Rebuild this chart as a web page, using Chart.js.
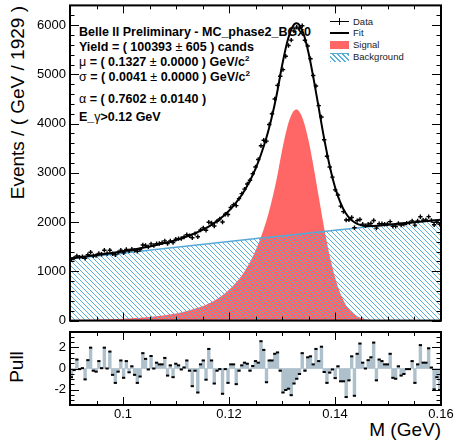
<!DOCTYPE html>
<html>
<head>
<meta charset="utf-8">
<script src="https://cdn.jsdelivr.net/npm/chart.js@4.4.0/dist/chart.umd.min.js"></script>
<style>
  body { margin: 0; background: #fff; }
  #wrap { position: relative; width: 456px; height: 440px; overflow: hidden;
          font-family: "Liberation Sans", Arial, Helvetica, sans-serif; color: #000; }
  canvas { position: absolute; left: 0; z-index: 1; }
  .t { position: absolute; white-space: nowrap; z-index: 0; }
  .info { left: 79px; font-weight: bold; font-size: 12.5px; line-height: 14px; }
  .info .g { font-weight: normal; }
  .info sup { font-size: 8px; line-height: 0; vertical-align: 5px; }
  .leg { left: 353px; font-size: 9.5px; line-height: 11px; color: #222; }
  .axt { font-size: 19px; line-height: 22px; transform: rotate(-90deg); transform-origin: 0 0; }
  .key { position: absolute; z-index: 0; }
</style>
</head>
<body>
<div id="wrap">
  <canvas id="fitChart" width="456" height="326" style="top:0"></canvas>
  <canvas id="pullChart" width="456" height="114" style="top:326px"></canvas>

  <div class="t info" style="top:25px">Belle II Preliminary - MC_phase2_BGx0</div>
  <div class="t info" style="top:40px">Yield = ( 100393 <span class="g">±</span> 605 ) cands</div>
  <div class="t info" style="top:55px"><span class="g">μ</span> = ( 0.1327 <span class="g">±</span> 0.0000 ) GeV/c<sup>2</sup></div>
  <div class="t info" style="top:70px"><span class="g">σ</span> = ( 0.0041 <span class="g">±</span> 0.0000 ) GeV/c<sup>2</sup></div>
  <div class="t info" style="top:92px"><span class="g">α</span> = ( 0.7602 <span class="g">±</span> 0.0140 )</div>
  <div class="t info" style="top:110px">E_<span class="g">γ</span>&gt;0.12 GeV</div>

  <div class="key" style="left:330px;top:21px;width:19px;height:1px;background:#000"></div>
  <div class="key" style="left:339px;top:18px;width:1px;height:7px;background:#000"></div>
  <div class="t leg" style="top:16px">Data</div>
  <div class="key" style="left:330px;top:32px;width:19px;height:2px;background:#000"></div>
  <div class="t leg" style="top:27px">Fit</div>
  <div class="key" style="left:330px;top:41px;width:19px;height:8px;background:#ff6666"></div>
  <div class="t leg" style="top:39px">Signal</div>
  <div class="key" style="left:330px;top:53px;width:19px;height:8px;border-top:1px solid #58a8d8;
       background:repeating-linear-gradient(45deg,#5aaedb 0 1px,transparent 1px 3.5px)"></div>
  <div class="t leg" style="top:51px">Background</div>

  <div class="t axt" style="left:7px;top:324px;width:318px;text-align:right">Events / ( GeV / 1929 )</div>
  <div class="t axt" style="left:6px;top:405px;width:76px;text-align:center">Pull</div>
  <div class="t" style="left:241px;top:419px;width:200px;text-align:right;font-size:19px;line-height:22px">M (GeV)</div>
</div>

<script>
// histogram range (bins of 1/1929 GeV)
const xMin = 0.09;
const xMax = 0.16;

// data points per bin (events)
const dataY = [
  1238, 1269, 1311, 1286, 1296, 1265, 1339, 1389, 1316, 1320,
  1365, 1348, 1427, 1362, 1429, 1356, 1335, 1383, 1430, 1377,
  1446, 1416, 1448, 1427, 1408, 1441, 1536, 1525, 1497, 1558,
  1525, 1561, 1567, 1581, 1619, 1566, 1618, 1587, 1651, 1664,
  1668, 1696, 1742, 1722, 1681, 1766, 1704, 1841, 1883, 1836,
  1996, 1981, 1920, 2017, 2065, 2001, 2159, 2155, 2295, 2351,
  2334, 2476, 2579, 2670, 2773, 2849, 2983, 3120, 3271, 3549,
  3663, 3645, 3982, 4201, 4498, 4777, 4961, 5096, 5367, 5586,
  5695, 5882, 5959, 5933, 5987, 5691, 5577, 5318, 4976, 4764,
  4365, 4135, 3671, 3336, 3118, 2913, 2654, 2549, 2324, 2213,
  2043, 2049, 2092, 1885, 2030, 2053, 1959, 1927, 1958, 1972,
  2034, 1878, 1967, 1966, 1956, 1961, 2010, 1916, 1917, 1975,
  1941, 1954, 1979, 1985, 2024, 1938, 2021, 2108, 2040, 2045,
  2111, 2034, 1947, 2004, 1955
];

// pull per bin
const pulls = [
  -0.82, -0.15, 0.85, -0.06, 0.03, -1.03, 0.79, 1.97, -0.21, -0.30,
  0.70, 0.03, 1.97, 0.00, 1.60, -0.60, -1.36, -0.30, 0.76, -0.88,
  0.70, -0.36, 0.21, -0.60, -1.36, -0.76, 1.45, 0.91, -0.09, 1.18,
  0.00, 0.55, 0.39, 0.39, 1.00, -0.67, 0.30, -0.82, 0.45, 0.30,
  -0.09, 0.10, 0.76, -0.21, -1.67, -0.21, -2.27, 0.39, 0.76, -1.06,
  1.85, 0.76, -1.42, -0.21, -0.06, -2.39, -0.06, -1.36, 0.39, 0.39,
  -1.48, -0.21, 0.30, 0.55, 0.45, -0.21, 0.24, 0.70, 0.55, 2.58,
  1.76, -1.30, 0.76, 0.76, 1.39, 1.52, -0.21, -2.27, -2.03, -1.91,
  -2.52, -1.42, -0.97, -0.52, 1.45, -0.21, 1.06, 1.15, 0.39, 1.85,
  0.70, 2.06, -0.33, -1.36, -0.39, -0.09, -0.91, 0.21, -1.21, -1.21,
  -2.70, -1.12, 1.15, -2.58, 1.39, 2.36, 0.55, 0.00, 0.79, 1.06,
  2.45, -1.12, 0.85, 0.70, 0.39, 0.39, 1.39, -0.88, -0.97, 0.21,
  -0.67, -0.52, -0.06, -0.06, 0.70, -1.36, 0.39, 2.21, 0.55, 0.55,
  1.91, 0.09, -1.97, -0.82, -2.03
];

// fit curves, read at these masses
const curveX = [0.090, 0.095, 0.100, 0.105, 0.110, 0.113, 0.115, 0.117, 0.119, 0.121,
                0.123, 0.125, 0.127, 0.128, 0.129, 0.130, 0.131, 0.132, 0.1327, 0.133,
                0.134, 0.135, 0.136, 0.137, 0.138, 0.139, 0.140, 0.141, 0.142, 0.143,
                0.144, 0.145, 0.146, 0.148, 0.150, 0.155, 0.160];
const fitY = [1263, 1332, 1408, 1504, 1634, 1748, 1841, 1965, 2129, 2351,
              2654, 3081, 3694, 4098, 4587, 5170, 5664, 5966, 6036, 6029,
              5841, 5439, 4888, 4274, 3669, 3140, 2713, 2399, 2184, 2051,
              1975, 1938, 1923, 1927, 1946, 1998, 2050];
const signalY = [13, 23, 40, 75, 144, 223, 292, 393, 534, 733,
                 1013, 1418, 2008, 2401, 2878, 3450, 3932, 4223, 4285, 4274,
                 4075, 3661, 3099, 2473, 1857, 1316, 878, 553, 327, 183,
                 96, 48, 22, 4, 1, 0, 0];
const bgX = [0.09, 0.10, 0.11, 0.12, 0.13, 0.14, 0.15, 0.16];
const bgY = [1250, 1368, 1490, 1607, 1720, 1835, 1945, 2050];

// axis ticks
const xLabels = [0.1, 0.12, 0.14, 0.16];
const yLabelsTop = [0, 1000, 2000, 3000, 4000, 5000, 6000];
const yLabelsPull = [-2, 0, 2];

const FONT = '"Liberation Sans", Arial, Helvetica, sans-serif';

const binW = (xMax - xMin) / pulls.length;
const binX = pulls.map((_, i) => xMin + (i + 0.5) * binW);
const pts = (xs, ys) => xs.map((x, i) => ({ x, y: ys[i] }));

function makeHatch() {
  const c = document.createElement('canvas');
  c.width = 5; c.height = 5;
  const g = c.getContext('2d');
  g.strokeStyle = '#5aaedb';
  g.lineWidth = 1;
  g.beginPath();
  g.moveTo(0, 0); g.lineTo(5, 5);
  g.moveTo(-1, 4); g.lineTo(1, 6);
  g.moveTo(4, -1); g.lineTo(6, 1);
  g.stroke();
  return g.createPattern(c, 'repeat');
}

// ROOT style frame with inward ticks on all four sides
function rootFrame(xMajor, xMinor, yMajor, yMinor) {
  return {
    id: 'rootFrame',
    afterDraw(chart) {
      const { ctx, chartArea: a, scales } = chart;
      ctx.save();
      ctx.strokeStyle = '#000';
      ctx.lineWidth = 1;
      ctx.beginPath();
      const xt = (v, len) => {
        const p = Math.round(scales.x.getPixelForValue(v)) + 0.5;
        ctx.moveTo(p, a.bottom); ctx.lineTo(p, a.bottom - len);
        ctx.moveTo(p, a.top); ctx.lineTo(p, a.top + len);
      };
      const yt = (v, len) => {
        const p = Math.round(scales.y.getPixelForValue(v)) + 0.5;
        ctx.moveTo(a.left, p); ctx.lineTo(a.left + len, p);
        ctx.moveTo(a.right, p); ctx.lineTo(a.right - len, p);
      };
      xMajor.forEach(v => xt(v, 8));
      xMinor.forEach(v => xt(v, 4));
      yMajor.forEach(v => yt(v, 9));
      yMinor.forEach(v => yt(v, 4.5));
      ctx.stroke();
      ctx.lineWidth = 2;
      ctx.strokeRect(a.left, a.top, a.right - a.left, a.bottom - a.top);
      ctx.restore();
    }
  };
}

const xMinor = [];
for (let k = 0; k <= 14; k++) {
  const v = +(xMin + k * 0.005).toFixed(3);
  if (!xLabels.includes(v)) xMinor.push(v);
}
const yMinorTop = [];
for (let k = 1; k <= 32; k++) if (k % 5) yMinorTop.push(k * 200);
const yMinorPull = [-3, -2.5, -1.5, -1, -0.5, 0.5, 1, 1.5, 2.5, 3];

function fixScale(s, w, h) {
  if (w !== undefined) s.width = w;
  if (h !== undefined) s.height = h;
  s.paddingTop = 0; s.paddingBottom = 0; s.paddingLeft = 0; s.paddingRight = 0;
}

new Chart(document.getElementById('fitChart'), {
  type: 'line',
  data: {
    datasets: [
      {
        label: 'Data',
        data: pts(binX, dataY),
        showLine: false,
        pointStyle: 'cross',
        pointRadius: 2.2,
        pointBorderWidth: 1.4,
        pointBorderColor: '#000',
        order: 0
      },
      {
        label: 'Fit',
        data: pts(curveX, fitY),
        borderColor: '#000',
        borderWidth: 2,
        pointRadius: 0,
        cubicInterpolationMode: 'monotone',
        fill: false,
        order: 1
      },
      {
        label: 'Background',
        data: pts(bgX, bgY),
        borderColor: '#58a8d8',
        borderWidth: 1.5,
        pointRadius: 0,
        cubicInterpolationMode: 'monotone',
        fill: 'origin',
        backgroundColor: makeHatch(),
        order: 2
      },
      {
        label: 'Signal',
        data: pts(curveX, signalY),
        borderWidth: 0,
        borderColor: 'rgba(0,0,0,0)',
        pointRadius: 0,
        cubicInterpolationMode: 'monotone',
        fill: 'origin',
        backgroundColor: '#ff6666',
        order: 3
      }
    ]
  },
  options: {
    responsive: false,
    animation: false,
    devicePixelRatio: 1,
    layout: { padding: { left: 0, right: 15, top: 5, bottom: 3 } },
    plugins: { legend: { display: false }, tooltip: { enabled: false } },
    scales: {
      x: { type: 'linear', min: xMin, max: xMax, display: false },
      y: {
        min: 0, max: 6400,
        grid: { display: false, drawTicks: false },
        border: { display: false },
        ticks: { padding: 4, color: '#000', font: { family: FONT, size: 13 },
                 callback: v => String(v) },
        afterBuildTicks: s => { s.ticks = yLabelsTop.map(v => ({ value: v })); },
        afterFit: s => fixScale(s, 70)
      }
    }
  },
  plugins: [rootFrame(xLabels, xMinor, yLabelsTop, yMinorTop)]
});

new Chart(document.getElementById('pullChart'), {
  type: 'bar',
  data: {
    datasets: [
      {
        type: 'scatter',
        data: pts(binX, pulls),
        pointStyle: 'line',
        pointRadius: 1.6,
        pointBorderWidth: 2,
        pointBorderColor: '#000',
        order: 0
      },
      {
        type: 'bar',
        data: pts(binX, pulls),
        backgroundColor: '#aec0cb',
        borderWidth: 0,
        barPercentage: 1,
        categoryPercentage: 1,
        order: 1
      }
    ]
  },
  options: {
    responsive: false,
    animation: false,
    devicePixelRatio: 1,
    layout: { padding: { left: 0, right: 15, top: 3, bottom: 0 } },
    plugins: { legend: { display: false }, tooltip: { enabled: false } },
    scales: {
      x: {
        type: 'linear', min: xMin, max: xMax, offset: false,
        grid: { display: false, drawTicks: false },
        border: { display: false },
        ticks: { padding: 2, color: '#000', font: { family: FONT, size: 13 },
                 maxRotation: 0, callback: v => String(v) },
        afterBuildTicks: s => { s.ticks = xLabels.map(v => ({ value: v })); },
        afterFit: s => fixScale(s, undefined, 35)
      },
      y: {
        min: -3.45, max: 3.45,
        grid: { display: false, drawTicks: false },
        border: { display: false },
        ticks: { padding: 4, color: '#000', font: { family: FONT, size: 13 },
                 callback: v => String(v) },
        afterBuildTicks: s => { s.ticks = yLabelsPull.map(v => ({ value: v })); },
        afterFit: s => fixScale(s, 70)
      }
    }
  },
  plugins: [rootFrame(xLabels, xMinor, yLabelsPull, yMinorPull)]
});
</script>
</body>
</html>
